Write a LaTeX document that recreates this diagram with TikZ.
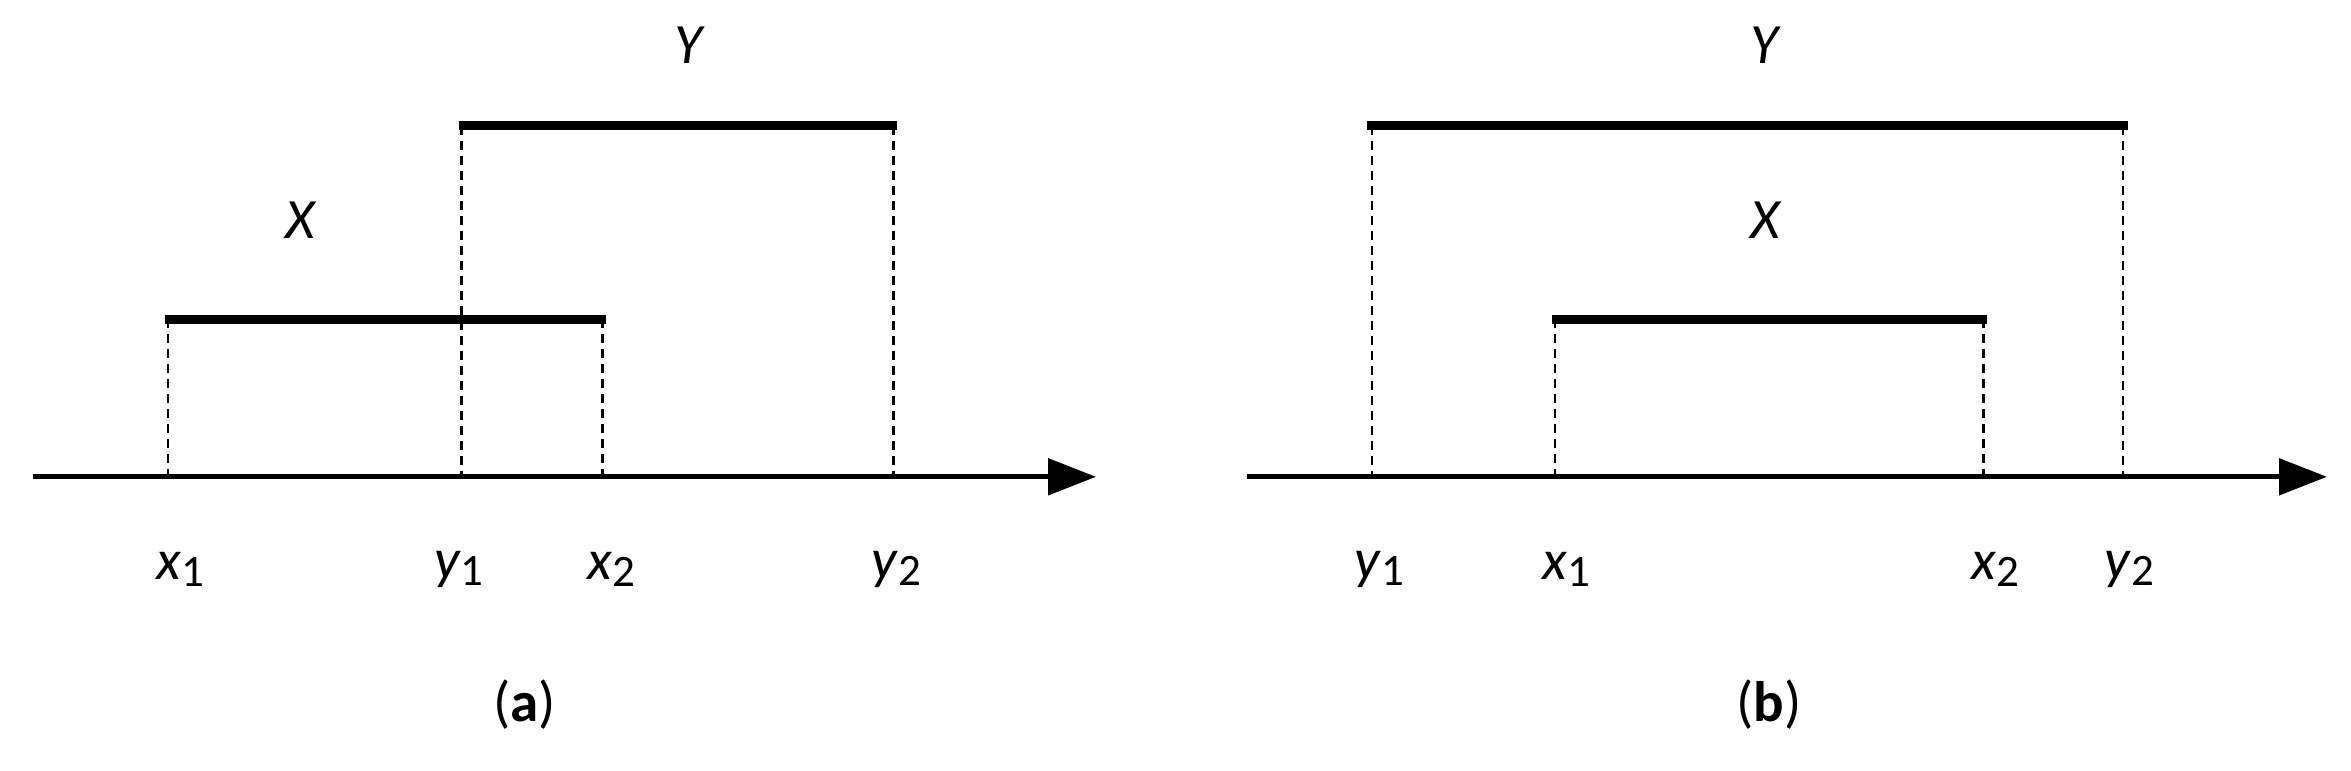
\documentclass[tikz,border=0pt]{standalone}
\usepackage{fontspec}
\setmainfont{Carlito}
\usetikzlibrary{arrows.meta}
\newcommand{\lbl}[2]{\textit{#1}\raisebox{-0.12em}{\fontsize{30}{30}\selectfont #2}}
\tikzset{
 bar/.style={line width=6pt},
 axisline/.style={line width=3.5pt,-{Triangle[length=32pt,width=24pt]}},
 guide/.style={line width=1.8pt,dash pattern=on 6pt off 4pt},
 txt/.style={font=\fontsize{38}{42}\selectfont,inner sep=0pt},
}
\begin{document}
\begin{tikzpicture}[x=1pt,y=-1pt]
\useasboundingbox (0,0) rectangle (1568,514);
% panel a
\coordinate (a0) at (22,318); \coordinate (a1) at (731,318);
\draw[axisline] (a0) -- (a1);
\coordinate (ax1) at (110,213); \coordinate (ax2) at (404,213);
\coordinate (ay1) at (306,84); \coordinate (ay2) at (598,84);
\draw[bar] (ax1) -- (ax2);
\draw[bar] (ay1) -- (ay2);
\draw[guide] (112,213) -- (112,318);
\draw[guide] (402,213) -- (402,318);
\draw[guide] (308,84) -- (308,318);
\draw[guide] (596,84) -- (596,318);
\node[txt] (lx1) at (120,380) {\lbl{x}{1}};
\node[txt] (ly1) at (306,380) {\lbl{y}{1}};
\node[txt] (lx2) at (408,380) {\lbl{x}{2}};
\node[txt] (ly2) at (598,380) {\lbl{y}{2}};
\node[txt] (lX) at (201,147) {\textit{X}};
\node[txt] (lY) at (460,30) {\textit{Y}};
\node[txt] (la) at (350,470) {(\textbf{a})};
% panel b
\coordinate (b0) at (832,318); \coordinate (b1) at (1552,318);
\draw[axisline] (b0) -- (b1);
\coordinate (bx1) at (1035,213); \coordinate (bx2) at (1325,213);
\coordinate (by1) at (912,84); \coordinate (by2) at (1419,84);
\draw[bar] (bx1) -- (bx2);
\draw[bar] (by1) -- (by2);
\draw[guide] (1037,213) -- (1037,318);
\draw[guide] (1323,213) -- (1323,318);
\draw[guide] (915,84) -- (915,318);
\draw[guide] (1416,84) -- (1416,318);
\node[txt] (mly1) at (920,380) {\lbl{y}{1}};
\node[txt] (mlx1) at (1045,380) {\lbl{x}{1}};
\node[txt] (mlx2) at (1331,380) {\lbl{x}{2}};
\node[txt] (mly2) at (1420,380) {\lbl{y}{2}};
\node[txt] (mX) at (1178,147) {\textit{X}};
\node[txt] (mY) at (1178,30) {\textit{Y}};
\node[txt] (lb) at (1180,470) {(\textbf{b})};
\end{tikzpicture}
\end{document}
